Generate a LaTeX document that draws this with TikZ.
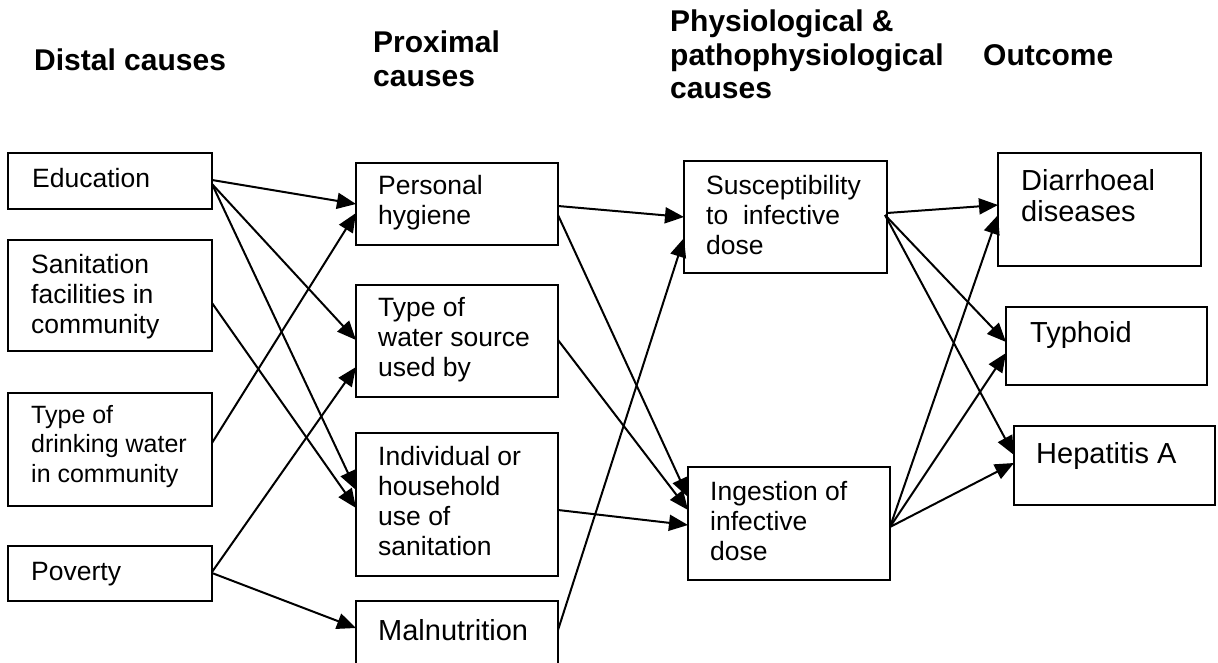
\documentclass[tikz,border=0pt]{standalone}
\usepackage{fontspec}
\setmainfont{Liberation Sans}
\usetikzlibrary{arrows.meta,calc}

\tikzset{
  box/.style={draw, line width=2.2pt, anchor=north west, inner sep=0pt, outer sep=0pt},
  arr/.style={line width=2pt, -{Triangle[length=19pt,width=16pt]}},
  lbl/.style={anchor=base west, inner sep=0pt, font=\fontsize{26.5}{30}\selectfont},
  lblsmall/.style={anchor=base west, inner sep=0pt, font=\fontsize{25}{29.5}\selectfont},
  lblbig/.style={anchor=base west, inner sep=0pt, font=\fontsize{29}{31}\selectfont},
  hdr/.style={anchor=base west, inner sep=0pt, font=\bfseries\fontsize{30}{33.5}\selectfont},
}
\newcommand{\lines}[1]{\begin{tabular}[t]{@{}l@{}}#1\end{tabular}}

\begin{document}
\begin{tikzpicture}[x=1pt, y=-1pt]
  \useasboundingbox (0,0) rectangle (1218,663);
  \clip (0,0) rectangle (1218,663);

  % column headings
  \node[hdr] (hDistal) at (34,71) {Distal causes};
  \node[hdr] (hProx) at (373,53) {\lines{Proximal\\causes}};
  \node[hdr] (hPhys) at (670,32) {\lines{Physiological \&\\pathophysiological\\causes}};
  \node[hdr] (hOut) at (983,66) {Outcome};

  % distal causes
  \node[box, minimum width=204pt, minimum height=56pt]  (edu) at (8,153) {};
  \node[box, minimum width=204pt, minimum height=111pt] (san) at (8,240) {};
  \node[box, minimum width=204pt, minimum height=113pt] (dri) at (8,393) {};
  \node[box, minimum width=204pt, minimum height=55pt]  (pov) at (8,546) {};
  \node[lbl] (eduT) at (32,188) {Education};
  \node[lbl] (sanT) at (31,273) {\lines{Sanitation\\facilities in\\community}};
  \node[lblsmall] (driT) at (31,423) {\lines{Type of\\drinking water\\in community}};
  \node[lbl] (povT) at (31,580) {Poverty};

  % proximal causes
  \node[box, minimum width=202pt, minimum height=82pt]  (hyg) at (356,163) {};
  \node[box, minimum width=202pt, minimum height=112pt] (wat) at (356,285) {};
  \node[box, minimum width=202pt, minimum height=143pt] (ind) at (356,433) {};
  \node[box, minimum width=202pt, minimum height=120pt] (mal) at (356,601) {};
  \node[lbl] (hygT) at (378,195) {\lines{Personal\\hygiene}};
  \node[lbl] (watT) at (378,316) {\lines{Type of\\water source\\used by}};
  \node[lbl] (indT) at (378,465) {\lines{Individual or\\household\\use of\\sanitation}};
  \node[lblbig] (malT) at (378,640) {Malnutrition};

  % physiological and pathophysiological causes
  \node[box, minimum width=203pt, minimum height=112pt] (sus) at (684,161) {};
  \node[box, minimum width=202pt, minimum height=113pt] (ing) at (688,467) {};
  \node[lbl] (susT) at (706,195) {\lines{Susceptibility\\to\ \ infective\\dose}};
  \node[lbl] (ingT) at (710,500) {\lines{Ingestion of\\infective\\dose}};

  % outcomes
  \node[box, minimum width=203pt, minimum height=113pt] (dia) at (998,153) {};
  \node[box, minimum width=201pt, minimum height=78pt]  (typ) at (1006,307) {};
  \node[box, minimum width=201pt, minimum height=79pt]  (hep) at (1014,426) {};
  \node[lblbig] (diaT) at (1021,191) {\lines{Diarrhoeal\\diseases}};
  \node[lblbig] (typT) at (1030,342) {Typhoid};
  \node[lblbig] (hepT) at (1036,463) {Hepatitis A};

  % distal -> proximal
  \draw[arr] ($(edu.north east)+(0,27)$) -- ($(hyg.north west)+(0,41)$);
  \draw[arr] ($(edu.north east)+(0,31)$) -- ($(wat.north west)+(0,55)$);
  \draw[arr] ($(edu.north east)+(0,31)$) -- ($(ind.north west)+(0,57)$);
  \draw[arr] ($(san.north east)+(0,63)$) -- ($(ind.north west)+(0,75)$);
  \draw[arr] ($(dri.north east)+(0,50)$) -- ($(hyg.north west)+(0,50)$);
  \draw[arr] ($(pov.north east)+(0,26)$) -- ($(wat.north west)+(0,82)$);
  \draw[arr] ($(pov.north east)+(0,27)$) -- ($(mal.north west)+(0,27)$);

  % proximal -> physiological
  \draw[arr] ($(hyg.north east)+(0,43)$) -- ($(sus.north west)+(0,56)$);
  \draw[arr] ($(hyg.north east)+(0,52)$) -- ($(ing.north west)+(0,30)$);
  \draw[arr] ($(wat.north east)+(0,55)$) -- ($(ing.north west)+(0,43)$);
  \draw[arr] ($(ind.north east)+(0,77)$) -- ($(ing.north west)+(0,58)$);
  \draw[arr] ($(mal.north east)+(0,29)$) -- ($(sus.north west)+(0,77)$);

  % physiological -> outcome
  \draw[arr] ($(sus.north east)+(0,52)$) -- ($(dia.north west)+(0,52)$);
  \draw[arr] ($(sus.north east)+(-2,54)$) -- ($(typ.north west)+(0,35)$);
  \draw[arr] ($(sus.north east)+(-2,54)$) -- ($(hep.north west)+(0,29)$);
  \draw[arr] ($(ing.north east)+(0,60)$) -- ($(dia.north west)+(0,62)$);
  \draw[arr] ($(ing.north east)+(0,60)$) -- ($(typ.north west)+(0,46)$);
  \draw[arr] ($(ing.north east)+(0,60)$) -- ($(hep.north west)+(0,37)$);
\end{tikzpicture}
\end{document}
